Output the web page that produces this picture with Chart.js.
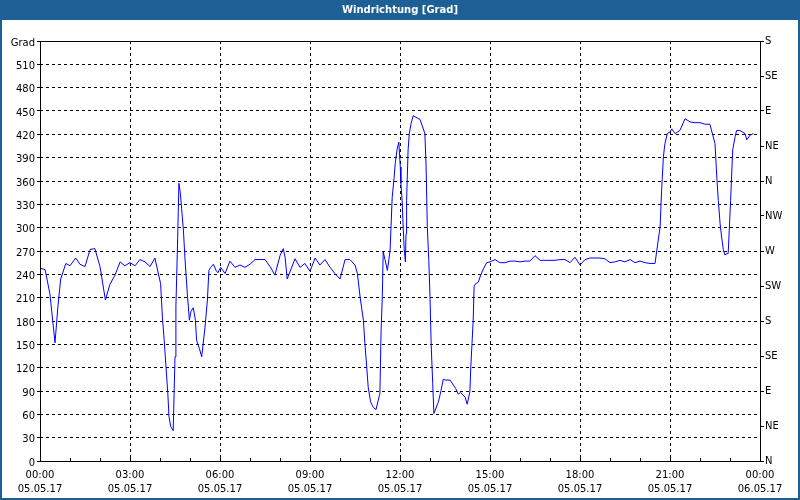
<!DOCTYPE html>
<html>
<head>
<meta charset="utf-8">
<title>Windrichtung [Grad]</title>
<script src="https://cdn.jsdelivr.net/npm/chart.js@4.4.1/dist/chart.umd.min.js"></script>
<style>
    html, body { margin: 0; padding: 0; background: #ffffff; }
    canvas { display: block; }
</style>
</head>
<body>
<canvas id="wind-chart" width="800" height="500"></canvas>
<script>
// Stunden seit 05.05.17 00:00
var hours = [
    0, 0.17, 0.33, 0.5, 0.6, 0.69, 0.86, 1.0, 1.19, 1.33, 1.5, 1.67, 1.83, 2.0, 2.18, 2.33, 2.5, 2.67, 2.83, 3.0,
    3.17, 3.33, 3.5, 3.67, 3.83, 4.02, 4.08, 4.14, 4.2, 4.26, 4.3, 4.36, 4.44, 4.5, 4.53, 4.59, 4.63, 4.68, 4.72, 4.78,
    4.83, 4.91, 4.98, 5.03, 5.11, 5.18, 5.22, 5.31, 5.39, 5.5, 5.58, 5.63, 5.69, 5.78, 5.87, 5.93, 6.02, 6.17, 6.33, 6.5,
    6.67, 6.83, 7.0, 7.17, 7.33, 7.5, 7.67, 7.83, 8.0, 8.11, 8.17, 8.24, 8.33, 8.5, 8.67, 8.83, 9.0, 9.17, 9.33, 9.5,
    9.67, 9.83, 10.0, 10.17, 10.33, 10.5, 10.58, 10.67, 10.78, 10.83, 10.89, 10.94, 11.02, 11.11, 11.2, 11.33, 11.37, 11.41, 11.44, 11.5,
    11.58, 11.67, 11.71, 11.74, 11.8, 11.84, 11.9, 11.96, 12.01, 12.03, 12.07, 12.11, 12.14, 12.18, 12.2, 12.22, 12.27, 12.31, 12.37, 12.44,
    12.53, 12.67, 12.83, 12.87, 12.91, 12.96, 13.0, 13.04, 13.09, 13.13, 13.19, 13.28, 13.37, 13.44, 13.53, 13.67, 13.86, 13.94, 14.02, 14.17,
    14.24, 14.33, 14.36, 14.4, 14.44, 14.47, 14.5, 14.61, 14.69, 14.78, 14.89, 15.0, 15.17, 15.33, 15.5, 15.67, 15.83, 16.0, 16.17, 16.33,
    16.5, 16.67, 16.83, 17.0, 17.17, 17.33, 17.5, 17.67, 17.83, 18.0, 18.17, 18.33, 18.5, 18.67, 18.83, 19.0, 19.17, 19.33, 19.5, 19.67,
    19.83, 20.0, 20.17, 20.33, 20.5, 20.67, 20.72, 20.78, 20.83, 20.91, 21.0, 21.06, 21.17, 21.33, 21.5, 21.67, 21.83, 22.0, 22.17, 22.33,
    22.5, 22.56, 22.61, 22.67, 22.72, 22.78, 22.83, 22.87, 22.94, 23.02, 23.09, 23.17, 23.22, 23.33, 23.5, 23.56, 23.67, 23.78, 23.87
];

// Windrichtung in Grad
var direction = [
    248, 246, 215, 152, 200, 234, 254, 251, 261, 253, 250, 272, 273, 250, 207, 227, 239, 256, 251, 255,
    251, 259, 256, 250, 261, 228, 185, 155, 121, 87, 57, 44, 39, 134, 198, 288, 357, 344, 325, 297,
    262, 215, 181, 192, 197, 181, 155, 145, 134, 172, 207, 245, 249, 253, 245, 242, 249, 241, 257, 249,
    252, 249, 253, 259, 259, 259, 250, 239, 264, 273, 262, 234, 243, 260, 249, 254, 244, 261, 252, 259,
    249, 241, 234, 259, 259, 252, 241, 211, 181, 151, 121, 95, 76, 69, 66, 87, 168, 211, 269, 259,
    245, 271, 310, 339, 363, 382, 400, 410, 378, 357, 335, 297, 273, 256, 292, 335, 400, 421, 434, 444,
    442, 439, 421, 378, 301, 258, 211, 149, 100, 61, 67, 76, 91, 105, 104, 104, 93, 86, 88, 82,
    73, 89, 121, 151, 181, 224, 227, 230, 239, 247, 255, 256, 259, 255, 255, 257, 257, 256, 257, 257,
    264, 258, 258, 258, 258, 259, 259, 255, 262, 252, 259, 261, 261, 261, 260, 255, 256, 258, 256, 259,
    255, 257, 255, 254, 254, 301, 348, 391, 408, 421, 423, 427, 421, 425, 440, 436, 435, 435, 433, 433,
    408, 365, 335, 305, 288, 271, 265, 266, 267, 335, 400, 417, 425, 425, 421, 413, 419, 421
];

var dateLabels = ['05.05.17', '05.05.17', '05.05.17', '05.05.17', '05.05.17', '05.05.17', '05.05.17', '05.05.17', '06.05.17'];
var compassLabels = ['N', 'NE', 'E', 'SE', 'S', 'SW', 'W', 'NW', 'N', 'NE', 'E', 'SE', 'S'];

(function() {
    'use strict';

    var frameBlue = '#1c6096';
    var font = { family: 'DejaVu Sans', size: 10 };

    var points = hours.map(function(h, i) {
        return { x: h, y: direction[i] };
    });

    // Titelleiste, Rahmen, Plot-Rand und Stunden-Ticks
    var framePlugin = {
        id: 'frame',
        beforeDraw: function(chart) {
            var c = chart.ctx;
            c.save();
            c.fillStyle = '#ffffff';
            c.fillRect(0, 0, chart.width, chart.height);
            c.fillStyle = frameBlue;
            c.fillRect(0, 0, chart.width, 20);
            c.fillRect(0, 0, 2, chart.height);
            c.fillRect(chart.width - 2, 0, 2, chart.height);
            c.fillRect(0, chart.height - 2, chart.width, 2);
            c.fillStyle = '#ffffff';
            c.font = 'bold 10px "DejaVu Sans"';
            c.textAlign = 'center';
            c.textBaseline = 'middle';
            c.fillText('Windrichtung [Grad]', chart.width / 2, 10);
            c.restore();
        },
        afterDatasetsDraw: function(chart) {
            var a = chart.chartArea;
            var x = chart.scales.x;
            var c = chart.ctx;
            c.save();
            c.strokeStyle = '#000000';
            c.lineWidth = 1;
            c.setLineDash([]);
            c.beginPath();
            for (var h = 1; h < 24; h++) {
                var px = Math.round(x.getPixelForValue(h)) + 0.5;
                c.moveTo(px, a.bottom);
                c.lineTo(px, a.bottom - 3);
            }
            c.stroke();
            c.strokeRect(Math.round(a.left) + 0.5, Math.round(a.top) + 0.5,
                Math.round(a.right - a.left), Math.round(a.bottom - a.top));
            c.restore();
        }
    };

    var ctx = document.getElementById('wind-chart');

    new Chart(ctx, {
        type: 'line',
        data: {
            datasets: [{
                label: 'Windrichtung',
                data: points,
                borderColor: '#0000ff',
                borderWidth: 1,
                pointRadius: 0,
                tension: 0,
                fill: false
            }]
        },
        options: {
            responsive: false,
            animation: false,
            layout: { padding: { top: 41, left: 0, right: 0, bottom: 0 } },
            plugins: {
                legend: { display: false },
                title: { display: false },
                tooltip: { enabled: false }
            },
            scales: {
                x: {
                    type: 'linear',
                    min: 0,
                    max: 24,
                    afterFit: function(scale) { scale.height = 39; },
                    border: { display: false, dash: [3, 3] },
                    grid: {
                        color: '#000000',
                        lineWidth: 1,
                        drawTicks: false
                    },
                    ticks: {
                        stepSize: 3,
                        autoSkip: false,
                        maxRotation: 0,
                        padding: 7,
                        color: '#000000',
                        font: { family: 'DejaVu Sans', size: 10, lineHeight: 1.4 },
                        callback: function(value) {
                            var hh = value % 24;
                            var t = (hh < 10 ? '0' : '') + hh + ':00';
                            return [t, dateLabels[Math.round(value / 3)]];
                        }
                    }
                },
                y: {
                    position: 'left',
                    min: 0,
                    max: 540,
                    afterFit: function(scale) { scale.width = 40; },
                    border: { display: false, dash: [3, 3] },
                    grid: {
                        color: '#000000',
                        lineWidth: 1,
                        tickLength: 3,
                        tickBorderDash: []
                    },
                    ticks: {
                        stepSize: 30,
                        autoSkip: false,
                        padding: 2,
                        labelOffset: 2,
                        color: '#000000',
                        font: font,
                        callback: function(value) {
                            return value === 540 ? 'Grad' : value;
                        }
                    }
                },
                compass: {
                    position: 'right',
                    min: 0,
                    max: 540,
                    afterFit: function(scale) { scale.width = 40; },
                    border: { display: false },
                    grid: {
                        drawOnChartArea: false,
                        color: '#000000',
                        tickLength: 4
                    },
                    ticks: {
                        stepSize: 45,
                        autoSkip: false,
                        padding: 1,
                        color: '#000000',
                        font: font,
                        callback: function(value) {
                            return compassLabels[Math.round(value / 45)];
                        }
                    }
                }
            }
        },
        plugins: [framePlugin]
    });
})();
</script>
</body>
</html>
